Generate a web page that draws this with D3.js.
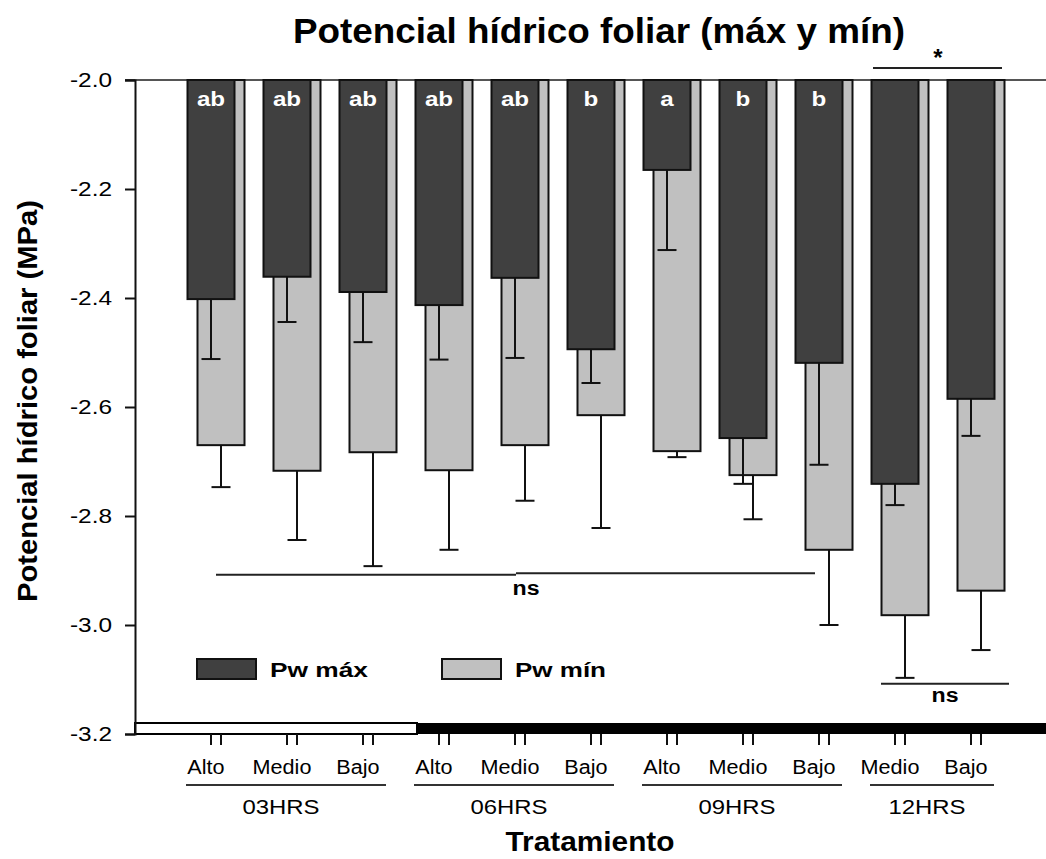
<!DOCTYPE html>
<html>
<head>
<meta charset="utf-8">
<script src="https://cdn.jsdelivr.net/npm/d3@7"></script>
<style>
  body { margin: 0; background: #fff; }
  svg text { font-family: "Liberation Sans", Arial, sans-serif; fill: #000; }
</style>
</head>
<body>
<div id="chart"></div>
<script>
// data
const groups = ["03HRS","03HRS","03HRS","06HRS","06HRS","06HRS","09HRS","09HRS","09HRS","12HRS","12HRS"];
const categories = ["Alto","Medio","Bajo","Alto","Medio","Bajo","Alto","Medio","Bajo","Medio","Bajo"];
const pwMax = [-2.402, -2.361, -2.389, -2.413, -2.363, -2.494, -2.165, -2.657, -2.519, -2.741, -2.585];
const pwMaxErr = [0.110, 0.083, 0.092, 0.100, 0.147, 0.062, 0.147, 0.084, 0.187, 0.039, 0.068];
const pwMin = [-2.670, -2.717, -2.683, -2.716, -2.670, -2.615, -2.681, -2.725, -2.862, -2.982, -2.937];
const pwMinErr = [0.077, 0.127, 0.209, 0.146, 0.102, 0.207, 0.011, 0.081, 0.138, 0.115, 0.109];
const letters = ["ab","ab","ab","ab","ab","b","a","b","b","",""];
const yTicks = [-2.0, -2.2, -2.4, -2.6, -2.8, -3.0, -3.2];
const groupNames = ["03HRS","06HRS","09HRS","12HRS"];

const width = 1046, height = 859;
const darkFill = '#404040', lightFill = '#c0c0c0';
const bw = 47, off = 5, cap = 19;

const keys = groups.map((g, i) => g + '-' + categories[i]);

const svg = d3.select('#chart').append('svg')
    .attr('width', width)
    .attr('height', height);

const x = d3.scalePoint().domain(keys).range([216, 976]);
const y = d3.scaleLinear().domain([-3.2, -2.0]).range([734, 80]);

function stretch(sel, k) {
    sel.each(function() {
        const w = this.getComputedTextLength();
        if (w > 0) d3.select(this).attr('textLength', w * k).attr('lengthAdjust', 'spacingAndGlyphs');
    });
}

// reference line at the top
svg.append('line')
    .attr('x1', 125).attr('x2', width)
    .attr('y1', y(-2.0)).attr('y2', y(-2.0))
    .attr('stroke', '#555').attr('stroke-width', 2);

// light / dark band along the bottom
const bandTop = y(-3.2) - 11;
svg.append('rect')
    .attr('x', 135).attr('y', bandTop)
    .attr('width', x(keys[3]) - 27 - 135).attr('height', 11)
    .attr('fill', '#fff').attr('stroke', '#000').attr('stroke-width', 2);
svg.append('rect')
    .attr('x', x(keys[3]) - 27).attr('y', bandTop)
    .attr('width', width - (x(keys[3]) - 27)).attr('height', 11)
    .attr('fill', '#000');

// Pw min bars (behind)
svg.selectAll('.minbar')
    .data(keys)
    .enter()
    .append('rect')
        .attr('x', d => x(d) + off - bw / 2)
        .attr('y', y(-2.0))
        .attr('width', bw)
        .attr('height', (d, i) => y(pwMin[i]) - y(-2.0))
        .attr('fill', lightFill)
        .attr('stroke', '#111')
        .attr('stroke-width', 2);

function errorBars(vals, errs, dx) {
    const g = svg.append('g').attr('stroke', '#111').attr('stroke-width', 2);
    keys.forEach((k, i) => {
        const cx = x(k) + dx;
        g.append('line')
            .attr('x1', cx).attr('x2', cx)
            .attr('y1', y(vals[i])).attr('y2', y(vals[i] - errs[i]));
        g.append('line')
            .attr('x1', cx - cap / 2).attr('x2', cx + cap / 2)
            .attr('y1', y(vals[i] - errs[i])).attr('y2', y(vals[i] - errs[i]));
    });
}
errorBars(pwMin, pwMinErr, off);

// Pw max bars (front)
svg.selectAll('.maxbar')
    .data(keys)
    .enter()
    .append('rect')
        .attr('x', d => x(d) - off - bw / 2)
        .attr('y', y(-2.0))
        .attr('width', bw)
        .attr('height', (d, i) => y(pwMax[i]) - y(-2.0))
        .attr('fill', darkFill)
        .attr('stroke', '#111')
        .attr('stroke-width', 2);
errorBars(pwMax, pwMaxErr, -off);

// letters on dark bars
svg.selectAll('.letter')
    .data(keys)
    .enter()
    .append('text')
        .attr('x', d => x(d) - off)
        .attr('y', 106)
        .attr('text-anchor', 'middle')
        .style('font-size', '21px')
        .style('font-weight', 'bold')
        .style('fill', '#fff')
        .text((d, i) => letters[i])
        .call(stretch, 1.15);

// y axis
const yAxis = svg.append('g')
    .attr('transform', 'translate(135,0)')
    .call(d3.axisLeft(y).tickValues(yTicks).tickFormat(d => d.toFixed(1)).tickSize(10).tickPadding(13));
yAxis.select('.domain').attr('stroke', '#111').attr('stroke-width', 2);
yAxis.selectAll('.tick line').attr('stroke', '#111').attr('stroke-width', 2);
yAxis.selectAll('.tick text')
    .style('font-size', '20px')
    .style('font-family', '"Liberation Sans", Arial, sans-serif')
    .call(stretch, 1.22);

// x ticks (pairs: max and min)
const xt = svg.append('g').attr('stroke', '#111').attr('stroke-width', 2);
keys.forEach(k => {
    [-off, off].forEach(dx => {
        xt.append('line')
            .attr('x1', x(k) + dx).attr('x2', x(k) + dx)
            .attr('y1', y(-3.2)).attr('y2', y(-3.2) + 11);
    });
});

// category labels
svg.selectAll('.cat')
    .data(keys)
    .enter()
    .append('text')
        .attr('x', d => x(d) - 10)
        .attr('y', 774)
        .attr('text-anchor', 'middle')
        .style('font-size', '20px')
        .text((d, i) => categories[i])
        .call(stretch, 1.08);

// group lines and labels
groupNames.forEach(gname => {
    const ks = keys.filter((k, i) => groups[i] === gname);
    const x0 = x(ks[0]) - off - 25;
    const x1 = x(ks[ks.length - 1]) - off + 23;
    svg.append('line')
        .attr('x1', x0).attr('x2', x1)
        .attr('y1', 785).attr('y2', 785)
        .attr('stroke', '#333').attr('stroke-width', 2);
    svg.append('text')
        .attr('x', (x(ks[0]) + x(ks[ks.length - 1])) / 2 - off - 6)
        .attr('y', 814)
        .attr('text-anchor', 'middle')
        .style('font-size', '21px')
        .attr('textLength', 77)
        .attr('lengthAdjust', 'spacingAndGlyphs')
        .text(gname);
});

// significance marks
const ann = svg.append('g').attr('stroke', '#222').attr('stroke-width', 2);
ann.append('line')
    .attr('x1', x(keys[0])).attr('x2', x(keys[4]) - 4)
    .attr('y1', y(-2.908)).attr('y2', y(-2.908));
ann.append('line')
    .attr('x1', x(keys[4]) - 4).attr('x2', x(keys[8]) - 9)
    .attr('y1', y(-2.905)).attr('y2', y(-2.905));
ann.append('line')
    .attr('x1', x(keys[9]) - 19).attr('x2', x(keys[10]) + 33)
    .attr('y1', y(-3.108)).attr('y2', y(-3.108));
ann.append('line')
    .attr('x1', x(keys[9]) - 27).attr('x2', x(keys[10]) + 26)
    .attr('y1', 68).attr('y2', 68);

svg.append('text')
    .attr('x', x(keys[4]) + 6).attr('y', 595)
    .attr('text-anchor', 'middle')
    .style('font-size', '20px').style('font-weight', 'bold')
    .attr('textLength', 27).attr('lengthAdjust', 'spacingAndGlyphs')
    .text('ns');
svg.append('text')
    .attr('x', (x(keys[9]) + x(keys[10])) / 2 + 7).attr('y', 702)
    .attr('text-anchor', 'middle')
    .style('font-size', '20px').style('font-weight', 'bold')
    .attr('textLength', 27).attr('lengthAdjust', 'spacingAndGlyphs')
    .text('ns');
svg.append('text')
    .attr('x', (x(keys[9]) + x(keys[10])) / 2).attr('y', 66)
    .attr('text-anchor', 'middle')
    .style('font-size', '24px').style('font-weight', 'bold')
    .text('*');

// legend
const legend = [
    {label: 'Pw máx', fill: darkFill, x: 197, w: 98},
    {label: 'Pw mín', fill: lightFill, x: 442, w: 91}
];
legend.forEach(l => {
    svg.append('rect')
        .attr('x', l.x).attr('y', 659)
        .attr('width', 59).attr('height', 20)
        .attr('fill', l.fill).attr('stroke', '#111').attr('stroke-width', 2);
    svg.append('text')
        .attr('x', l.x + 73).attr('y', 677)
        .style('font-size', '21px').style('font-weight', 'bold')
        .attr('textLength', l.w).attr('lengthAdjust', 'spacingAndGlyphs')
        .text(l.label);
});

// titles
svg.append('text')
    .attr('x', 599).attr('y', 43)
    .attr('text-anchor', 'middle')
    .style('font-size', '35px').style('font-weight', 'bold')
    .attr('textLength', 612).attr('lengthAdjust', 'spacingAndGlyphs')
    .text('Potencial hídrico foliar (máx y mín)');

svg.append('text')
    .attr('transform', 'translate(37,401) rotate(-90)')
    .attr('text-anchor', 'middle')
    .style('font-size', '28px').style('font-weight', 'bold')
    .attr('textLength', 402).attr('lengthAdjust', 'spacingAndGlyphs')
    .text('Potencial hídrico foliar (MPa)');

svg.append('text')
    .attr('x', 590).attr('y', 851)
    .attr('text-anchor', 'middle')
    .style('font-size', '28px').style('font-weight', 'bold')
    .attr('textLength', 169).attr('lengthAdjust', 'spacingAndGlyphs')
    .text('Tratamiento');
</script>
</body>
</html>
